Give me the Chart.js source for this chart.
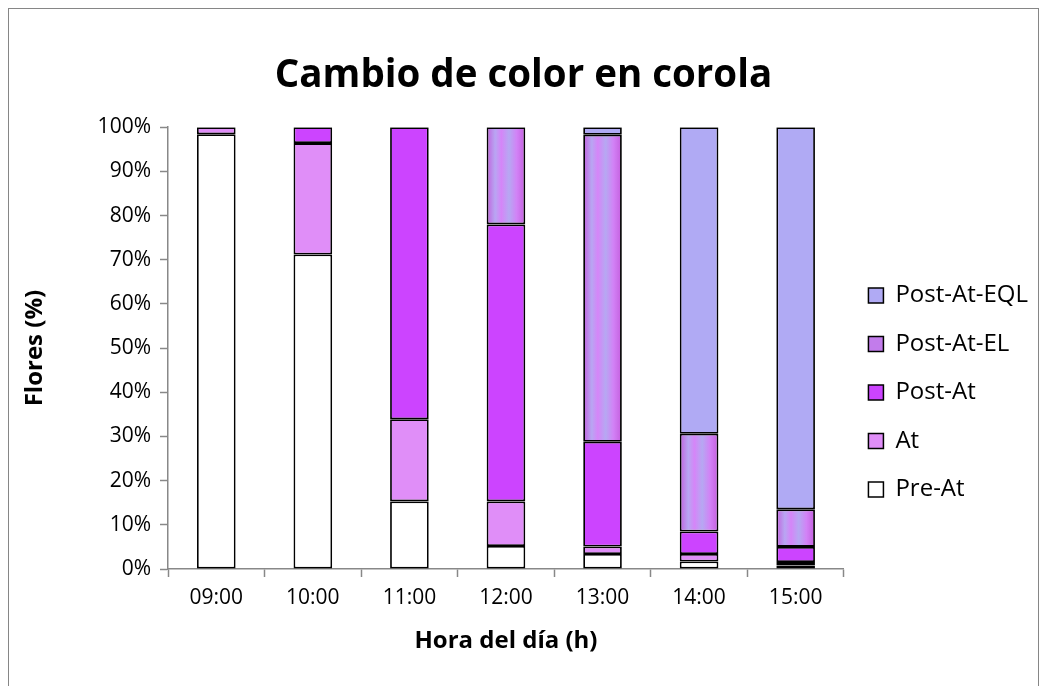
<!DOCTYPE html>
<html>
<head>
<meta charset="utf-8">
<script src="https://cdn.jsdelivr.net/npm/chart.js@4.4.0/dist/chart.umd.min.js"></script>
<style>
  html, body { margin: 0; padding: 0; background: #fff; }
  #frame {
    position: absolute; left: 8px; top: 8px;
    width: 1031px; height: 679px;
    border: 1px solid #868686; box-sizing: border-box;
  }
  #chart { display: block; }
</style>
</head>
<body>
<div id="frame"><canvas id="chart" width="1029" height="677"></canvas></div>
<script>
// horas del día
const hours = ["09:00", "10:00", "11:00", "12:00", "13:00", "14:00", "15:00"];

// porcentaje de flores en cada estado
const preAt      = [98.4, 71.2, 15.3,  5.2,  3.4,  1.7,  0.8];
const at         = [ 1.6, 25.2, 18.6, 10.1,  1.7,  1.7,  0.8];
const postAt     = [ 0,    3.6, 66.1, 62.7, 23.7,  5.1,  3.4];
const postAtEL   = [ 0,    0,    0,   22.0, 69.5, 22.1,  8.5];
const postAtEQL  = [ 0,    0,    0,    0,    1.7, 69.4, 86.5];

const yTicks = [0, 10, 20, 30, 40, 50, 60, 70, 80, 90, 100];

const FONT = "'Open Sans', sans-serif";
const BAR_PCT = 0.4;

// relleno con franjas verticales para Post-At-EL
function stripeFill(ctx) {
  const chart = ctx.chart;
  const xs = chart.scales.x;
  if (ctx.dataIndex === undefined || !xs || !chart.chartArea) return "#C27CEB";
  const cx = xs.getPixelForValue(ctx.dataIndex);
  const w = (xs.width / hours.length) * BAR_PCT;
  const g = chart.ctx.createLinearGradient(cx - w / 2, 0, cx + w / 2, 0);
  g.addColorStop(0.00, "#C260DE");
  g.addColorStop(0.22, "#B8A6F2");
  g.addColorStop(0.38, "#D585F8");
  g.addColorStop(0.58, "#B6A8F2");
  g.addColorStop(0.78, "#D282F6");
  g.addColorStop(1.00, "#C45EDE");
  return g;
}

const mk = (label, data, bg) => ({
  label, data, backgroundColor: bg,
  borderColor: "#000", borderWidth: 1.8, borderSkipped: false,
  barPercentage: BAR_PCT, categoryPercentage: 1.0
});

// baja la leyenda, como en Excel
const legendShift = {
  id: "legendShift",
  afterLayout(chart) {
    const lg = chart.legend;
    if (!lg) return;
    lg.top += 45; lg.bottom += 45;
  }
};

new Chart(document.getElementById("chart"), {
  type: "bar",
  data: {
    labels: hours,
    datasets: [
      mk("Pre-At", preAt, "#FFFFFF"),
      mk("At", at, "#E08EF8"),
      mk("Post-At", postAt, "#CC44FF"),
      mk("Post-At-EL", postAtEL, stripeFill),
      mk("Post-At-EQL", postAtEQL, "#B0AAF4")
    ]
  },
  plugins: [legendShift],
  options: {
    responsive: false,
    animation: false,
    layout: { padding: 0 },
    plugins: {
      title: {
        display: true,
        text: "Cambio de color en corola",
        color: "#000",
        font: { family: FONT, size: 38.5, weight: "bold" },
        padding: { top: 44, bottom: 28 }
      },
      legend: {
        position: "right",
        reverse: true,
        align: "center",
        maxWidth: 195,
        labels: {
          color: "#000",
          font: { family: FONT, size: 24 },
          boxWidth: 15, boxHeight: 15,
          padding: 24.5,
          generateLabels(chart) {
            const items = Chart.defaults.plugins.legend.labels.generateLabels(chart);
            items.forEach(it => {
              it.lineWidth = 1.5;
              it.strokeStyle = "#000";
              if (it.text === "Post-At-EL") it.fillStyle = "#C27CEB";
            });
            return items;
          }
        }
      },
      tooltip: { enabled: false }
    },
    scales: {
      x: {
        stacked: true,
        offset: true,
        afterFit: s => { s.height = 117; },
        grid: { display: true, drawOnChartArea: false, offset: true, color: "#888", tickLength: 8, tickWidth: 1.5 },
        border: { color: "#888", width: 1.5 },
        ticks: { color: "#000", font: { family: FONT, size: 21 }, padding: 8 },
        title: {
          display: true, text: "Hora del día (h)", color: "#000",
          font: { family: FONT, size: 24, weight: "bold" }, padding: { top: 0, bottom: 30 }
        }
      },
      y: {
        stacked: true,
        min: 0, max: 100,
        afterFit: s => { s.width = 159; },
        afterBuildTicks: axis => { axis.ticks = yTicks.map(v => ({ value: v })); },
        grid: { display: true, drawOnChartArea: false, color: "#888", tickLength: 8, tickWidth: 1.5 },
        border: { color: "#888", width: 1.5 },
        ticks: { color: "#000", font: { family: FONT, size: 21 }, padding: 9, callback: v => v + "%" },
        title: {
          display: true, text: "Flores (%)", color: "#000",
          font: { family: FONT, size: 24, weight: "bold" }, padding: { top: 12, bottom: 0 }
        }
      }
    }
  }
});
</script>
</body>
</html>
